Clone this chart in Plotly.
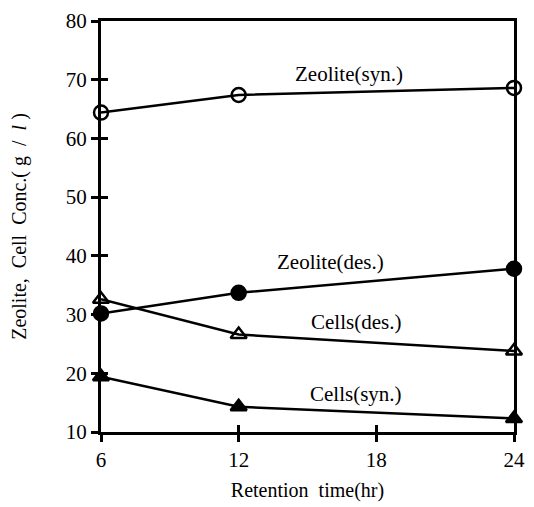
import plotly.graph_objects as go

time_hr = [6, 12, 24]
zeolite_syn = [64.4, 67.4, 68.6]
zeolite_des = [30.2, 33.7, 37.8]
cells_des = [32.6, 26.6, 23.8]
cells_syn = [19.4, 14.3, 12.3]

x_ticks = [6, 12, 18, 24]
y_ticks = [10, 20, 30, 40, 50, 60, 70, 80]

labels = [
    ("Zeolite(syn.)", 16.8, 71.0),
    ("Zeolite(des.)", 16.0, 39.0),
    ("Cells(des.)", 17.1, 28.7),
    ("Cells(syn.)", 17.1, 16.5),
]

FONT = "Liberation Serif, Times New Roman, DejaVu Serif, serif"

fig = go.Figure()

def add(y, symbol):
    fig.add_trace(go.Scatter(
        x=time_hr, y=y, mode="lines+markers",
        line=dict(color="black", width=2.5),
        marker=dict(symbol=symbol, size=14, color="black",
                    line=dict(color="black", width=2.5)),
        cliponaxis=False, showlegend=False,
    ))

add(zeolite_syn, "circle-open")
add(zeolite_des, "circle")
add(cells_des, "triangle-up-open")
add(cells_syn, "triangle-up")

for text, x, y in labels:
    fig.add_annotation(x=x, y=y, text=text, showarrow=False,
                       font=dict(family=FONT, size=21, color="black"))

axis_common = dict(showgrid=False, zeroline=False, linecolor="black",
                   tickcolor="black", ticklen=7, tickwidth=2.5)

fig.update_layout(
    width=534, height=507,
    margin=dict(l=101, r=9, t=14, b=71),
    plot_bgcolor="white", paper_bgcolor="white",
    font=dict(family=FONT, size=19, color="black"),
    xaxis=dict(range=[6, 24], tickvals=x_ticks, ticks="outside",
               showline=True, linewidth=3, mirror=True,
               tickfont=dict(family=FONT, size=21),
               title=dict(text="Retention  time(hr)", font=dict(family=FONT, size=20), standoff=12),
               **axis_common),
    yaxis=dict(range=[10, 80], tickvals=y_ticks, ticks="outside",
               showline=True, linewidth=3, mirror=True,
               tickfont=dict(family=FONT, size=21),
               title=dict(text="Zeolite,  Cell  Conc.( g  /  <i>l</i> )", font=dict(family=FONT, size=20), standoff=34),
               **axis_common),
    xaxis2=dict(range=[6, 24], tickvals=x_ticks, ticks="inside", overlaying="x",
                showticklabels=False, showline=False, side="bottom", **axis_common),
    yaxis2=dict(range=[10, 80], tickvals=y_ticks, ticks="inside", overlaying="y",
                showticklabels=False, showline=False, side="left", **axis_common),
)

fig.add_trace(go.Scatter(x=[6], y=[10], xaxis="x2", yaxis="y2", mode="markers",
                         marker=dict(opacity=0), showlegend=False, hoverinfo="skip"))

fig.write_html("out.html", config={"displayModeBar": False},
               post_script="document.body.style.margin='0';document.body.style.overflow='hidden';")
